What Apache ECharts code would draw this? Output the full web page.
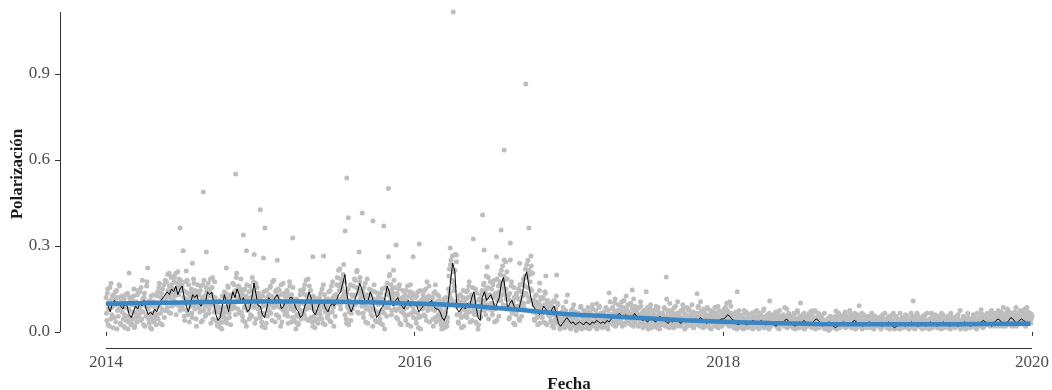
<!DOCTYPE html>
<html>
<head>
<meta charset="utf-8">
<script src="https://cdn.jsdelivr.net/npm/echarts@6/dist/echarts.min.js"></script>
<style>html,body{margin:0;padding:0;background:#fff}#chart{width:1052px;height:390px}</style>
</head>
<body>
<div id="chart"></div>
<script>
// ---- data ----
const years = [2014, 2015, 2016, 2017, 2018, 2019];
const xTickValues = [2014, 2016, 2018, 2020];
const yTickValues = [0, 0.3, 0.6, 0.9];
const scatterStepDays = 2;
const lineStepDays = 5;

// daily polarisation cloud, even days
const grey2014 = [.12,.04,.15,.08,.02,.11,.17,.06,.09,.13, .05,.14,.10,.01,.12,.08,.16,.03,.11,.07, .09,.02,.06,.13,.04,.10,.01,.08,.12,.05, .03,.11,.07,.15,.02,.09,.05,.13,.08,.06, .14,.04,.10,.18,.07,.12,.02,.09,.16,.06, .08,.03,.11,.05,.01,.09,.13,.04,.07,.10, .06,.14,.09,.17,.03,.12,.08,.15,.11,.05, .18,.10,.13,.20,.07,.16,.12,.19,.09,.15, .11,.19,.14,.06,.17,.21,.13,.09,.18,.15, .16,.08,.12,.04,.14,.10,.18,.06,.11,.13, .09,.15,.05,.13,.17,.08,.12,.02,.14,.10, .13,.07,.16,.10,.04,.12,.18,.09,.06,.14, .11,.17,.08,.15,.03,.13,.19,.10,.07,.12, .04,.09,.02,.07,.11,.03,.06,.01,.08,.05, .14,.07,.12,.03,.16,.09,.05,.13,.10,.08, .17,.10,.14,.06,.19,.12,.08,.16,.11,.15, .07,.13,.04,.11,.15,.09,.02,.12,.08,.14, .16,.06,.12,.19,.09,.14,.03,.17,.10,.13, .08,.12,.05];
const grey2015 = [.05,.11,.02,.09,.14,.06,.10,.03,.12,.08, .13,.07,.16,.10,.04,.12,.18,.09,.14,.06, .09,.15,.05,.11,.02,.13,.08,.17,.10,.06, .12,.07,.14,.03,.10,.16,.08,.13,.05,.11, .04,.09,.01,.06,.11,.03,.08,.13,.05,.07, .10,.15,.06,.13,.18,.08,.12,.04,.16,.09, .05,.10,.02,.08,.12,.04,.07,.11,.03,.09, .12,.06,.10,.15,.03,.09,.13,.07,.11,.05, .08,.14,.04,.11,.16,.07,.12,.02,.10,.13, .13,.19,.10,.16,.22,.08,.17,.12,.20,.14, .06,.12,.03,.09,.15,.07,.11,.04,.13,.08, .16,.10,.18,.13,.21,.07,.15,.11,.19,.12, .09,.14,.05,.12,.17,.08,.13,.03,.11,.15, .13,.06,.10,.02,.08,.14,.04,.11,.07,.12, .06,.12,.03,.10,.15,.07,.11,.01,.09,.13, .17,.09,.14,.20,.11,.06,.15,.12,.18,.08, .10,.05,.13,.08,.15,.03,.11,.07,.12,.09, .08,.13,.04,.11,.16,.06,.10,.14,.02,.12, .09,.05,.13];
const grey2016 = [.07,.12,.03,.10,.14,.05,.09,.01,.11,.08, .13,.06,.10,.15,.04,.12,.08,.16,.09,.11, .08,.12,.02,.10,.14,.05,.09,.13,.06,.11, .04,.08,.01,.06,.10,.03,.07,.12,.02,.05, .15,.22,.12,.25,.18,.10,.21,.16,.27,.09, .06,.11,.03,.09,.13,.05,.08,.12,.02,.10, .09,.14,.05,.12,.16,.07,.10,.13,.04,.11, .12,.06,.15,.03,.09,.01,.07,.11,.05,.13, .14,.09,.17,.11,.06,.15,.12,.19,.08,.13, .10,.15,.06,.12,.18,.08,.13,.04,.11,.16, .14,.20,.11,.17,.23,.13,.18,.09,.15,.21, .08,.13,.05,.11,.16,.07,.10,.03,.12,.09, .06,.12,.09,.15,.04,.11,.14,.08,.17,.10, .16,.22,.13,.19,.25,.12,.20,.15,.23,.11, .07,.11,.04,.09,.13,.05,.08,.10,.03,.12, .09,.05,.12,.07,.14,.03,.08,.11,.06,.10, .07,.04,.09,.02,.06,.11,.03,.08,.05,.10, .03,.05,.01,.04,.07,.02,.04,.06,.02,.05, .03,.06,.02];
const grey2017 = [.03,.06,.01,.04,.08,.02,.05,.03,.07,.01, .04,.02,.06,.03,.09,.01,.05,.02,.04,.07, .02,.05,.03,.07,.01,.04,.06,.02,.08,.03, .05,.02,.04,.01,.06,.03,.09,.02,.05,.04, .03,.07,.02,.05,.04,.08,.01,.06,.03,.05, .06,.03,.08,.04,.10,.02,.05,.07,.03,.06, .04,.09,.05,.02,.07,.11,.03,.06,.08,.04, .07,.03,.06,.10,.04,.08,.02,.05,.09,.06, .05,.08,.02,.06,.04,.09,.03,.07,.05,.02, .04,.07,.03,.06,.01,.05,.08,.02,.04,.06, .06,.02,.05,.09,.03,.04,.07,.01,.05,.03, .03,.06,.04,.08,.02,.05,.03,.07,.04,.10, .05,.02,.07,.03,.06,.04,.09,.02,.05,.03, .04,.07,.02,.05,.03,.08,.04,.01,.06,.03, .02,.05,.08,.03,.06,.04,.02,.07,.03,.05, .06,.03,.05,.09,.04,.02,.07,.05,.03,.08, .04,.06,.02,.05,.08,.03,.06,.04,.01,.05, .03,.07,.04,.02,.06,.05,.09,.03,.04,.06, .05,.02,.07];
const grey2018 = [.05,.08,.03,.06,.10,.04,.07,.02,.05,.09, .04,.06,.02,.05,.03,.07,.01,.04,.06,.03, .02,.05,.03,.06,.01,.04,.02,.07,.03,.05, .04,.02,.06,.03,.05,.01,.04,.07,.02,.03, .03,.05,.01,.04,.06,.02,.05,.03,.08,.02, .02,.04,.06,.03,.01,.05,.02,.04,.03,.06, .05,.03,.07,.02,.04,.06,.01,.03,.05,.04, .03,.06,.02,.05,.03,.08,.04,.02,.05,.03, .04,.02,.05,.03,.06,.01,.04,.03,.07,.02, .03,.05,.02,.04,.06,.03,.01,.05,.02,.04, .02,.04,.06,.03,.05,.02,.04,.07,.03,.01, .05,.03,.02,.04,.06,.03,.05,.02,.04,.03, .01,.03,.02,.04,.02,.05,.01,.03,.02,.04, .03,.05,.02,.04,.01,.03,.06,.02,.04,.03, .04,.02,.05,.03,.07,.02,.04,.03,.05,.02, .03,.06,.02,.04,.03,.05,.01,.04,.02,.06, .02,.04,.03,.05,.01,.03,.06,.02,.04,.03, .04,.02,.05,.03,.02,.04,.06,.03,.01,.05, .03,.02,.04];
const grey2019 = [.03,.05,.02,.04,.01,.03,.06,.02,.04,.03, .02,.04,.03,.05,.01,.03,.02,.06,.03,.04, .01,.03,.05,.02,.04,.03,.01,.04,.02,.05, .03,.02,.04,.06,.02,.03,.05,.01,.04,.03, .04,.02,.03,.05,.01,.04,.02,.06,.03,.02, .02,.05,.03,.01,.04,.03,.06,.02,.04,.03, .03,.01,.04,.02,.05,.03,.02,.04,.06,.02, .04,.03,.05,.02,.03,.01,.04,.06,.02,.03, .02,.04,.03,.05,.02,.04,.01,.03,.05,.02, .03,.05,.02,.04,.03,.06,.02,.04,.01,.03, .04,.02,.05,.03,.01,.04,.02,.05,.03,.04, .02,.04,.03,.06,.02,.03,.05,.01,.04,.03, .03,.05,.02,.04,.06,.03,.02,.05,.03,.04, .05,.03,.06,.02,.04,.07,.03,.05,.02,.04, .03,.06,.04,.02,.05,.03,.07,.04,.02,.05, .04,.02,.06,.03,.05,.07,.03,.04,.06,.02, .05,.03,.07,.04,.02,.06,.04,.05,.03,.07, .04,.06,.03,.05,.08,.02,.05,.04,.07,.03, .05,.03,.06];

// daily polarisation cloud, odd days
const odd2014 = [.065,.135,.025,.105,.155,.045,.085,.125,.015,.095, .115,.035,.145,.075,.055,.165,.095,.025,.125,.085, .045,.115,.015,.085,.055,.135,.035,.075,.105,.025, .095,.045,.125,.015,.065,.105,.035,.145,.055,.085, .075,.155,.045,.115,.025,.135,.095,.055,.175,.105, .045,.095,.015,.125,.065,.035,.105,.055,.085,.025, .125,.045,.155,.095,.065,.135,.025,.105,.165,.075, .115,.175,.085,.145,.205,.125,.065,.165,.135,.195, .175,.125,.205,.095,.155,.135,.185,.075,.165,.145, .095,.145,.055,.175,.115,.075,.135,.165,.035,.125, .135,.065,.115,.185,.095,.145,.045,.125,.165,.085, .085,.145,.035,.115,.165,.075,.125,.055,.155,.095, .145,.065,.125,.185,.095,.155,.045,.115,.175,.085, .075,.025,.105,.045,.085,.015,.065,.125,.035,.055, .085,.135,.045,.115,.155,.065,.105,.025,.125,.095, .125,.165,.085,.145,.205,.105,.155,.065,.135,.185, .115,.055,.145,.085,.035,.125,.165,.075,.105,.045, .095,.145,.055,.125,.175,.085,.115,.045,.155,.105, .135,.065,.105];
const odd2015 = [.085,.035,.125,.065,.105,.015,.095,.145,.055,.075, .095,.155,.065,.125,.175,.085,.115,.035,.145,.105, .125,.055,.145,.085,.165,.035,.105,.075,.135,.095, .085,.145,.055,.125,.175,.095,.035,.115,.155,.075, .085,.035,.115,.055,.025,.095,.065,.145,.045,.105, .135,.075,.165,.095,.045,.125,.185,.085,.115,.145, .085,.035,.125,.055,.015,.095,.065,.105,.045,.075, .075,.135,.045,.105,.165,.085,.025,.115,.095,.055, .115,.065,.145,.035,.095,.175,.085,.125,.055,.105, .165,.115,.215,.145,.095,.185,.155,.125,.235,.175, .115,.045,.135,.085,.025,.105,.165,.065,.095,.125, .125,.185,.095,.155,.215,.135,.065,.175,.145,.105, .135,.065,.155,.095,.035,.115,.185,.085,.125,.075, .085,.145,.055,.115,.165,.075,.105,.035,.135,.095, .105,.045,.135,.075,.025,.115,.065,.155,.085,.055, .145,.085,.195,.125,.165,.075,.135,.215,.105,.155, .075,.135,.045,.115,.165,.085,.025,.105,.145,.065, .115,.055,.145,.085,.025,.125,.095,.165,.065,.105, .135,.075,.095];
const odd2016 = [.095,.045,.125,.065,.015,.105,.145,.055,.085,.115, .085,.145,.055,.115,.175,.075,.125,.035,.105,.095, .115,.045,.135,.075,.165,.035,.105,.085,.125,.055, .075,.025,.095,.045,.115,.015,.065,.085,.035,.105, .195,.135,.235,.115,.265,.175,.145,.215,.105,.245, .095,.035,.125,.065,.105,.015,.085,.145,.055,.075, .115,.065,.145,.085,.175,.035,.125,.095,.155,.075, .065,.105,.035,.135,.085,.025,.115,.055,.095,.145, .105,.165,.075,.135,.195,.095,.155,.045,.125,.175, .125,.075,.165,.095,.035,.135,.085,.185,.115,.055, .175,.125,.215,.155,.095,.195,.145,.245,.115,.185, .115,.045,.135,.085,.175,.065,.105,.155,.025,.125, .135,.075,.115,.045,.165,.095,.055,.125,.185,.085, .195,.135,.235,.155,.105,.215,.175,.265,.145,.205, .095,.045,.125,.065,.105,.025,.085,.145,.055,.115, .065,.115,.035,.095,.135,.075,.025,.105,.085,.055, .085,.035,.065,.105,.015,.075,.045,.125,.055,.095, .045,.015,.065,.025,.055,.085,.035,.015,.075,.045, .025,.055,.035];
const odd2017 = [.045,.015,.075,.035,.055,.095,.025,.065,.005,.045, .025,.065,.035,.085,.015,.055,.045,.075,.035,.015, .055,.025,.085,.045,.015,.065,.035,.095,.025,.055, .035,.075,.015,.055,.045,.085,.025,.065,.035,.015, .065,.025,.055,.085,.035,.015,.075,.045,.105,.035, .045,.085,.025,.065,.115,.055,.035,.075,.095,.045, .075,.035,.105,.055,.085,.025,.065,.125,.045,.095, .045,.095,.055,.025,.085,.065,.115,.035,.075,.045, .065,.025,.085,.045,.105,.035,.055,.015,.075,.045, .055,.025,.085,.045,.065,.035,.095,.015,.055,.075, .035,.075,.025,.055,.015,.085,.045,.065,.025,.055, .065,.025,.085,.045,.055,.115,.035,.075,.015,.055, .035,.075,.045,.015,.085,.055,.025,.065,.105,.045, .055,.025,.075,.045,.095,.035,.065,.015,.055,.085, .045,.075,.025,.055,.035,.095,.045,.015,.065,.035, .025,.065,.085,.035,.055,.105,.045,.075,.015,.055, .065,.025,.045,.085,.035,.055,.015,.075,.045,.065, .055,.025,.085,.045,.065,.035,.015,.075,.045,.055, .035,.065,.045];
const odd2018 = [.065,.035,.085,.045,.075,.025,.055,.105,.045,.065, .035,.055,.015,.045,.065,.025,.055,.035,.075,.045, .045,.015,.055,.035,.075,.025,.045,.065,.015,.035, .025,.055,.035,.065,.015,.045,.025,.055,.035,.075, .045,.015,.065,.035,.025,.055,.045,.075,.015,.035, .055,.025,.045,.015,.065,.035,.055,.025,.045,.035, .025,.065,.035,.045,.015,.055,.075,.035,.025,.045, .045,.025,.085,.035,.055,.015,.045,.065,.025,.055, .035,.055,.015,.065,.025,.045,.035,.075,.045,.015, .055,.025,.045,.035,.015,.065,.035,.045,.025,.055, .035,.065,.025,.045,.015,.055,.035,.025,.075,.045, .025,.045,.065,.015,.035,.055,.025,.045,.035,.065, .015,.035,.025,.045,.005,.035,.055,.015,.025,.045, .035,.015,.055,.025,.045,.035,.065,.015,.035,.055, .025,.045,.035,.065,.015,.055,.035,.025,.045,.075, .035,.015,.055,.045,.025,.065,.035,.015,.055,.035, .045,.025,.035,.065,.015,.045,.025,.055,.035,.015, .035,.055,.025,.045,.015,.065,.035,.045,.025,.055, .035,.045,.025];
const odd2019 = [.025,.045,.035,.015,.055,.035,.025,.045,.065,.035, .045,.015,.035,.055,.025,.045,.035,.015,.065,.025, .035,.055,.025,.045,.015,.035,.065,.025,.045,.035, .015,.045,.035,.025,.055,.035,.015,.045,.025,.065, .035,.055,.015,.045,.025,.035,.065,.025,.045,.035, .045,.015,.035,.055,.025,.045,.015,.035,.065,.035, .025,.045,.035,.065,.015,.035,.055,.025,.045,.035, .015,.055,.035,.025,.045,.065,.025,.035,.015,.045, .035,.025,.055,.015,.045,.035,.065,.025,.045,.035, .045,.015,.035,.055,.025,.045,.035,.075,.025,.035, .025,.055,.035,.015,.045,.025,.065,.035,.045,.015, .035,.045,.025,.055,.035,.015,.045,.065,.025,.035, .045,.025,.065,.035,.015,.055,.035,.045,.025,.065, .035,.055,.025,.045,.075,.035,.055,.025,.045,.065, .055,.035,.075,.025,.045,.065,.035,.055,.085,.045, .035,.065,.045,.025,.075,.045,.055,.035,.065,.045, .065,.035,.055,.085,.045,.025,.065,.045,.075,.035, .055,.035,.075,.045,.065,.025,.085,.045,.055,.035, .065,.045,.055];

const evenByYear = [grey2014, grey2015, grey2016, grey2017, grey2018, grey2019];
const oddByYear = [odd2014, odd2015, odd2016, odd2017, odd2018, odd2019];

// isolated high days [decimal year, value]
const outliers = [[2016.25,1.116],[2016.72,0.865],[2016.58,0.635],[2014.84,0.551],[2015.56,0.537],[2015.83,0.50],[2014.63,0.488],[2015.0,0.426],[2015.66,0.415],[2016.44,0.408],[2015.57,0.398],[2015.73,0.387],[2015.8,0.37],[2015.03,0.363],[2014.48,0.363],[2016.74,0.363],[2016.56,0.356],[2015.55,0.352],[2014.89,0.338],[2015.21,0.328],[2016.38,0.324],[2016.62,0.31],[2016.03,0.307],[2015.88,0.303],[2016.23,0.293],[2016.45,0.286],[2014.5,0.283],[2014.91,0.283],[2015.64,0.279],[2014.65,0.279],[2014.96,0.27],[2016.27,0.268],[2015.41,0.265],[2015.34,0.262],[2015.83,0.262],[2015.99,0.262],[2016.53,0.262],[2015.02,0.258],[2016.58,0.251],[2016.62,0.251],[2015.11,0.25],[2014.56,0.24],[2016.68,0.24],[2016.47,0.227],[2014.27,0.223],[2014.78,0.223],[2014.52,0.213],[2014.15,0.206],[2016.92,0.199],[2016.85,0.195],[2017.63,0.192],[2016.81,0.171],[2017.41,0.146],[2017.5,0.14],[2018.09,0.14],[2017.26,0.136],[2017.83,0.133],[2016.99,0.129],[2018.3,0.108],[2019.23,0.108],[2016.98,0.105],[2018.5,0.101],[2017.18,0.098],[2018.88,0.091],[2019.84,0.08],[2019.67,0.077],[2018.57,0.073],[2018.73,0.073],[2018.82,0.07]];

// rolling mean (one value every 5 days)
const line2014 = [.10,.09,.07,.10,.11,.09,.10,.09,.08,.10,.09,.06,.05,.07,.09,.08,.10,.09,.11,.08,.06,.07,.06,.08,.07,.09,.11,.12,.13,.14,.13,.15,.14,.16,.13,.15,.16,.12,.09,.07,.10,.13,.12,.13,.10,.09,.11,.10,.14,.13,.14,.10,.06,.04,.05,.09,.13,.10,.07,.11,.14,.12,.15,.13,.10,.12,.09,.07,.08,.12,.17,.13,.09];
const line2015 = [.09,.06,.05,.08,.12,.11,.10,.12,.13,.11,.08,.09,.11,.10,.12,.12,.10,.08,.07,.05,.06,.09,.11,.14,.12,.07,.06,.08,.10,.11,.10,.08,.07,.09,.10,.09,.11,.13,.14,.17,.20,.13,.09,.07,.09,.12,.14,.17,.15,.12,.10,.11,.14,.12,.08,.05,.06,.08,.09,.12,.16,.14,.10,.09,.11,.12,.10,.09,.08,.10,.11,.09,.10];
const line2016 = [.10,.09,.07,.08,.09,.10,.09,.10,.11,.09,.08,.08,.07,.05,.04,.06,.11,.18,.24,.21,.08,.07,.08,.09,.08,.10,.09,.12,.14,.09,.05,.04,.12,.14,.11,.12,.13,.11,.08,.10,.12,.17,.19,.14,.08,.10,.11,.09,.08,.07,.10,.13,.19,.21,.16,.12,.09,.08,.07,.06,.07,.09,.08,.07,.06,.08,.09,.06,.03,.02,.03,.04,.05];
const line2017 = [.04,.03,.035,.025,.03,.035,.03,.025,.035,.03,.025,.035,.03,.04,.035,.03,.035,.03,.04,.035,.045,.055,.05,.06,.065,.05,.055,.06,.05,.045,.05,.065,.055,.05,.045,.04,.045,.035,.04,.05,.04,.035,.045,.055,.045,.04,.035,.03,.04,.035,.04,.045,.035,.03,.04,.035,.045,.04,.035,.04,.045,.04,.05,.045,.04,.03,.035,.04,.035,.04,.035,.04,.045];
const line2018 = [.045,.05,.06,.055,.045,.04,.03,.025,.03,.035,.03,.025,.03,.035,.04,.035,.03,.035,.04,.03,.025,.03,.035,.03,.025,.02,.03,.035,.03,.04,.045,.035,.03,.025,.02,.03,.035,.03,.04,.035,.03,.025,.03,.04,.045,.04,.03,.02,.025,.03,.035,.03,.02,.015,.02,.025,.03,.035,.03,.025,.03,.035,.04,.035,.03,.025,.02,.025,.03,.035,.03,.025,.03];
const line2019 = [.03,.025,.02,.025,.03,.035,.03,.02,.015,.02,.025,.03,.025,.02,.025,.03,.035,.03,.025,.02,.025,.03,.025,.02,.03,.035,.03,.025,.02,.025,.03,.035,.03,.025,.02,.025,.03,.025,.02,.025,.03,.035,.03,.025,.02,.025,.03,.025,.03,.035,.04,.035,.03,.025,.02,.03,.04,.045,.04,.03,.025,.03,.04,.05,.045,.035,.03,.04,.045,.04,.035,.03,.035];
const lineByYear = [line2014, line2015, line2016, line2017, line2018, line2019];

// smooth trend
const smoothX = [2014.0, 2014.5, 2015.0, 2015.5, 2016.0, 2016.3, 2016.55, 2016.8, 2017.0, 2017.25, 2017.5, 2017.75, 2018.0, 2018.3, 2018.6, 2019.0, 2019.5, 2019.99];
const smoothY = [0.098, 0.103, 0.106, 0.105, 0.099, 0.093, 0.083, 0.071, 0.062, 0.055, 0.048, 0.041, 0.036, 0.031, 0.028, 0.027, 0.027, 0.029];

// ---- build series data ----
const scatterData = [];
evenByYear.forEach((arr, k) => arr.forEach((v, j) => scatterData.push([years[k] + (j * scatterStepDays) / 365, v])));
oddByYear.forEach((arr, k) => arr.forEach((v, j) => scatterData.push([years[k] + (1 + j * scatterStepDays) / 365, v])));
outliers.forEach(p => scatterData.push(p));
const lineData = [];
lineByYear.forEach((arr, k) => arr.forEach((v, j) => lineData.push([years[k] + j * lineStepDays / 365, v])));
const smoothData = smoothX.map((x, i) => [x, smoothY[i]]);

const xMin = 2013.702, xMax = 2020.298;
const yMin = -0.056, yMax = 1.158;
const yTop = Math.max(...scatterData.map(p => p[1]));

const labelFont = { fontFamily: 'Liberation Serif', fontSize: 17, color: '#4d4d4d' };
const nameFont = { fontFamily: 'Liberation Serif', fontSize: 17, fontWeight: 'bold', color: '#1a1a1a' };

const chart = echarts.init(document.getElementById('chart'), null, { renderer: 'canvas' });
chart.setOption({
  animation: false,
  backgroundColor: '#ffffff',
  grid: { left: 60, right: -26, top: 0, bottom: 42, containLabel: false, outerBoundsMode: 'none' },
  xAxis: {
    type: 'value', min: xMin, max: xMax,
    name: 'Fecha', nameLocation: 'middle', nameGap: 24, nameTextStyle: nameFont,
    axisLine: { show: false },
    axisTick: { show: true, length: 4, customValues: xTickValues, lineStyle: { color: '#333', width: 1 } },
    axisLabel: { customValues: xTickValues, margin: 6, formatter: v => String(Math.round(v)), ...labelFont },
    splitLine: { show: false }
  },
  yAxis: {
    type: 'value', min: yMin, max: yMax,
    name: 'Polarización', nameLocation: 'middle', nameGap: 34, nameMoveOverlap: false, nameTextStyle: nameFont,
    axisLine: { show: false },
    axisTick: { show: true, length: 5, customValues: yTickValues, lineStyle: { color: '#333', width: 1 } },
    axisLabel: { customValues: yTickValues, margin: 10, formatter: v => v.toFixed(1), ...labelFont },
    splitLine: { show: false }
  },
  series: [
    {
      type: 'scatter', data: scatterData, symbolSize: 5, silent: true,
      itemStyle: { color: '#bebebe', opacity: 1 }, z: 1, clip: false,
      markLine: {
        silent: true, symbol: 'none', label: { show: false },
        lineStyle: { color: '#333', width: 1, type: 'solid' },
        data: [
          [{ coord: [xMin, 0] }, { coord: [xMin, yTop] }],
          [{ coord: [xTickValues[0], yMin] }, { coord: [xTickValues[xTickValues.length - 1], yMin] }]
        ]
      }
    },
    {
      type: 'line', data: lineData, showSymbol: false, silent: true, z: 2,
      lineStyle: { color: '#000000', width: 1 }
    },
    {
      type: 'line', data: smoothData, smooth: 0.4, showSymbol: false, silent: true, z: 3,
      lineStyle: { color: '#3a85c4', width: 4.5 }
    }
  ]
});
</script>
</body>
</html>
